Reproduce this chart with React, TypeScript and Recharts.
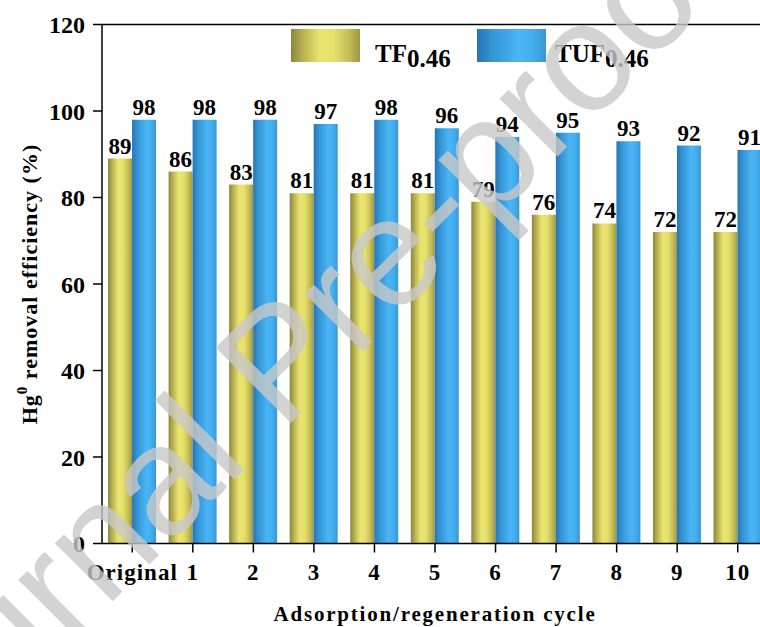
import React from 'react';
import { BarChart, Bar, XAxis, YAxis, LabelList, Label, ReferenceLine } from 'recharts';

const cycles = ['Original', '1', '2', '3', '4', '5', '6', '7', '8', '9', '10'];
const tfEfficiency = [89, 86, 83, 81, 81, 81, 79, 76, 74, 72, 72];
const tufEfficiency = [98, 98, 98, 97, 98, 96, 94, 95, 93, 92, 91];
const yTicks = [0, 20, 40, 60, 80, 100, 120];

const data = cycles.map((cycle, i) => ({ cycle, tf: tfEfficiency[i], tuf: tufEfficiency[i] }));

const serif = '"Liberation Serif", "Times New Roman", serif';
const yTickStyle = { fill: '#000', fontSize: 24, fontWeight: 'bold', fontFamily: serif };
const xTickStyle = { fill: '#000', fontSize: 23, fontWeight: 'bold', fontFamily: serif, letterSpacing: 1 };

const GradientDefs = ({ prefix }: { prefix: string }) => (
  <defs>
    <linearGradient id={`${prefix}Tf`} x1="0" y1="0" x2="1" y2="0">
      <stop offset="0%" stopColor="#8a863c" />
      <stop offset="18%" stopColor="#b9b251" />
      <stop offset="42%" stopColor="#ebe56f" />
      <stop offset="62%" stopColor="#e7e16b" />
      <stop offset="85%" stopColor="#c2bb57" />
      <stop offset="100%" stopColor="#9d9744" />
    </linearGradient>
    <linearGradient id={`${prefix}Tuf`} x1="0" y1="0" x2="1" y2="0">
      <stop offset="0%" stopColor="#2774b4" />
      <stop offset="22%" stopColor="#3495d5" />
      <stop offset="60%" stopColor="#49b5f5" />
      <stop offset="80%" stopColor="#44aeee" />
      <stop offset="100%" stopColor="#3797d6" />
    </linearGradient>
  </defs>
);

const YTitle = (props: any) => {
  const { viewBox } = props;
  const cx = 37;
  const cy = viewBox.y + viewBox.height / 2;
  return (
    <text
      x={cx}
      y={cy}
      transform={`rotate(-90, ${cx}, ${cy})`}
      textAnchor="middle"
      fill="#000"
      fontSize={22}
      fontWeight="bold"
      fontFamily={serif}
      letterSpacing={1}
    >
      <tspan>Hg</tspan>
      <tspan dy={-10} fontSize={15}>0</tspan>
      <tspan dy={10}> removal efficiency (%)</tspan>
    </text>
  );
};

const XTitle = (props: any) => {
  const { viewBox } = props;
  return (
    <text
      x={viewBox.x + viewBox.width / 2}
      y={621}
      textAnchor="middle"
      fill="#000"
      fontSize={21}
      fontWeight="bold"
      fontFamily={serif}
      letterSpacing={1.8}
    >
      Adsorption/regeneration cycle
    </text>
  );
};

const LegendBox = () => (
  <svg width={760} height={80} style={{ position: 'absolute', left: 0, top: 0, pointerEvents: 'none' }}>
    <GradientDefs prefix="legend" />
    <rect x={291} y={29} width={69} height={33} fill="url(#legendTf)" />
    <text x={375} y={62} fill="#000" fontSize={25} fontWeight="bold" fontFamily={serif}>
      TF<tspan dy={5}>0.46</tspan>
    </text>
    <rect x={477} y={29} width={69} height={33} fill="url(#legendTuf)" />
    <text x={555} y={62} fill="#000" fontSize={25} fontWeight="bold" fontFamily={serif}>
      TUF<tspan dy={5}>0.46</tspan>
    </text>
  </svg>
);

// diagonal "Journal Pre-proof" stamp laid over the whole figure
const Watermark = () => (
  <svg width={760} height={627} style={{ position: 'absolute', left: 0, top: 0, pointerEvents: 'none' }}>
    <text
      x={-108}
      y={822}
      transform="rotate(-45, -108, 822)"
      fill="#c8c8c8"
      fillOpacity={0.8}
      fontSize={155}
      fontFamily='"Liberation Sans", Arial, sans-serif'
    >
      Journal Pre-proof
    </text>
  </svg>
);

export default function App() {
  return (
    <div style={{ position: 'fixed', left: 0, top: 0, width: 760, height: 627, overflow: 'hidden', background: '#fff' }}>
      <BarChart
        width={800}
        height={627}
        data={data}
        margin={{ top: 24.5, right: 32, bottom: 0, left: 0 }}
        barCategoryGap="10%"
        barGap={0}
      >
        <GradientDefs prefix="bar" />
        <XAxis
          dataKey="cycle"
          height={83.5}
          interval={0}
          tickSize={9}
          tickMargin={11}
          axisLine={{ stroke: '#000', strokeWidth: 1.5 }}
          tickLine={{ stroke: '#000', strokeWidth: 1.5 }}
          tick={xTickStyle}
        >
          <Label content={XTitle} />
        </XAxis>
        <YAxis
          width={102}
          domain={[0, 120]}
          ticks={yTicks}
          interval={0}
          tickSize={9}
          tickMargin={8}
          axisLine={{ stroke: '#000', strokeWidth: 1.5 }}
          tickLine={{ stroke: '#000', strokeWidth: 1.5 }}
          tick={yTickStyle}
        >
          <Label content={YTitle} />
        </YAxis>
        <ReferenceLine y={120} stroke="#000" strokeWidth={1.5} />
        <Bar dataKey="tf" name="TF0.46" fill="url(#barTf)" isAnimationActive={false}>
          <LabelList dataKey="tf" position="top" offset={5} fill="#000" fontSize={23} fontWeight="bold" fontFamily={serif} />
        </Bar>
        <Bar dataKey="tuf" name="TUF0.46" fill="url(#barTuf)" isAnimationActive={false}>
          <LabelList dataKey="tuf" position="top" offset={5} fill="#000" fontSize={23} fontWeight="bold" fontFamily={serif} />
        </Bar>
      </BarChart>
      <LegendBox />
      <Watermark />
    </div>
  );
}
